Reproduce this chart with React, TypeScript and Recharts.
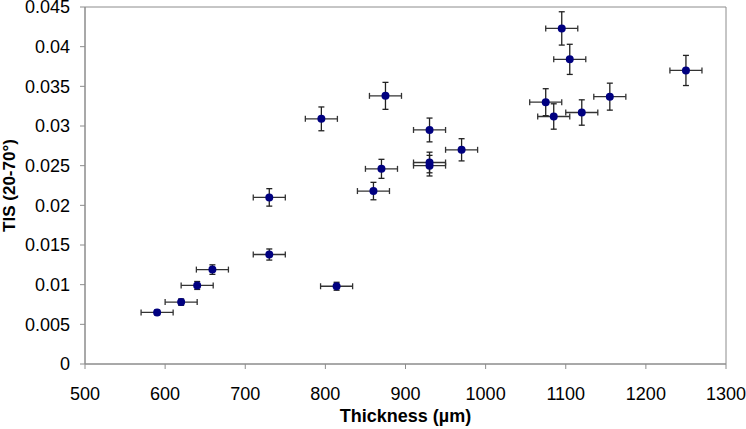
import { ErrorBar, ReferenceArea, Scatter, ScatterChart, XAxis, YAxis, Label } from 'recharts'

const thickness = [590, 620, 640, 659, 730, 730, 795, 814, 860, 870, 875, 930, 930, 930, 970, 1075, 1085, 1095, 1105, 1120, 1155, 1250]
const tis = [0.0065, 0.0078, 0.0099, 0.0119, 0.0138, 0.021, 0.0309, 0.0098, 0.0218, 0.0246, 0.0338, 0.0295, 0.0254, 0.025, 0.027, 0.033, 0.0312, 0.0423, 0.0384, 0.0317, 0.0337, 0.037]
const thicknessErr = [20, 20, 20, 20, 20, 20, 20, 20, 20, 20, 20, 20, 20, 20, 20, 20, 20, 20, 20, 20, 20, 20]
const tisErr = [0.0003, 0.0004, 0.0005, 0.0006, 0.0007, 0.0011, 0.0015, 0.0005, 0.0011, 0.0012, 0.0017, 0.0015, 0.0013, 0.0013, 0.0014, 0.0017, 0.0016, 0.0021, 0.0019, 0.0016, 0.0017, 0.0019]

const xTicks = [500, 600, 700, 800, 900, 1000, 1100, 1200, 1300]
const yTicks = [0, 0.005, 0.01, 0.015, 0.02, 0.025, 0.03, 0.035, 0.04, 0.045]

const font = '"Liberation Sans", Arial, sans-serif'
const axisGray = '#8c8c8c'

const rows = thickness.map((x, i) => ({
  x,
  y: tis[i],
  xErr: thicknessErr[i],
  yErr: tisErr[i],
}))

export default function App() {
  return (
    <div style={{ position: 'absolute', left: 0, top: 0, width: 746, height: 429, background: '#fff', fontFamily: font }}>
      <ScatterChart width={746} height={429} margin={{ top: 7, right: 20, bottom: 26, left: 25 }}>
        <ReferenceArea x1={500} x2={1300} y1={0} y2={0.045} fill="none" stroke={axisGray} strokeWidth={1} />
        <XAxis
          type="number"
          dataKey="x"
          domain={[500, 1300]}
          ticks={xTicks}
          height={39}
          tickSize={5}
          tickMargin={18}
          stroke={axisGray}
          tick={{ fill: '#000', fontSize: 18, fontFamily: font }}
          interval={0}
        >
          <Label
            content={({ viewBox }: any) => (
              <text
                x={viewBox.x + viewBox.width / 2}
                y={422}
                textAnchor="middle"
                fontFamily={font}
                fontSize={18}
                fontWeight="bold"
                fill="#000"
              >
                Thickness (µm)
              </text>
            )}
          />
        </XAxis>
        <YAxis
          type="number"
          dataKey="y"
          domain={[0, 0.045]}
          ticks={yTicks}
          width={60}
          tickSize={5}
          tickMargin={10}
          stroke={axisGray}
          tick={{ fill: '#000', fontSize: 18, fontFamily: font }}
          interval={0}
        >
          <Label
            content={({ viewBox }: any) => {
              const cy = viewBox.y + viewBox.height / 2
              return (
                <text
                  x={9}
                  y={cy}
                  dy="0.35em"
                  transform={`rotate(-90 9 ${cy})`}
                  textAnchor="middle"
                  fontFamily={font}
                  fontSize={17}
                  fontWeight="bold"
                  fill="#000"
                >
                  TIS (20-70°)
                </text>
              )
            }}
          />
        </YAxis>
        <Scatter data={rows} fill="#000080" isAnimationActive={false} shape={(p: any) => <circle cx={p.cx} cy={p.cy} r={4} fill="#000080" />}>
          <ErrorBar dataKey="xErr" direction="x" width={3} stroke="#333" strokeWidth={1.3} isAnimationActive={false} />
          <ErrorBar dataKey="yErr" direction="y" width={3} stroke="#222" strokeWidth={1.3} isAnimationActive={false} />
        </Scatter>
      </ScatterChart>
    </div>
  )
}
